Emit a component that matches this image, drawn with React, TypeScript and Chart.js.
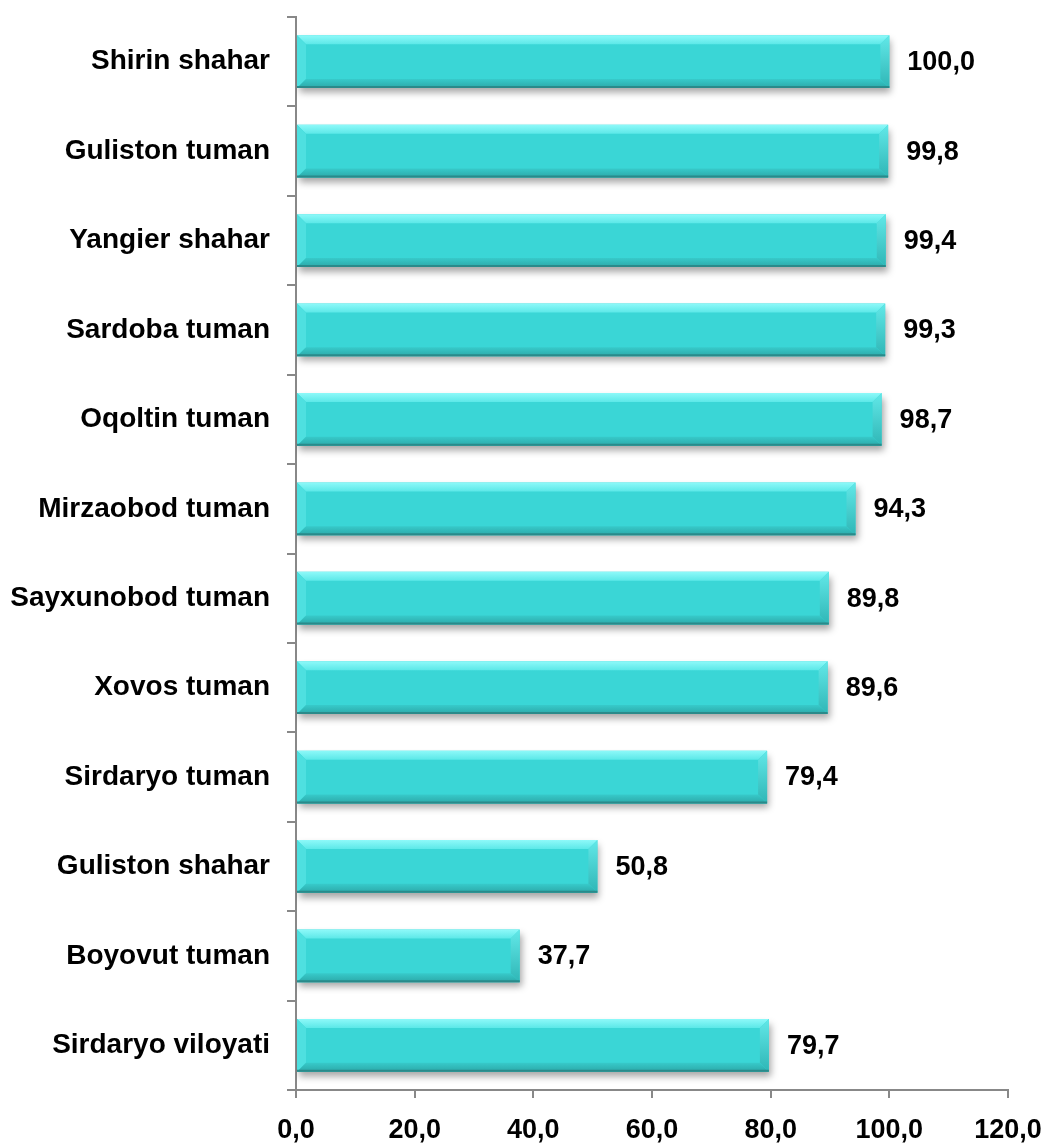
import React, { useEffect, useRef } from "react";
import { Chart, registerables } from "chart.js";

Chart.register(...registerables);

const categories = [
  "Shirin shahar",
  "Guliston tuman",
  "Yangier shahar",
  "Sardoba tuman",
  "Oqoltin tuman",
  "Mirzaobod tuman",
  "Sayxunobod tuman",
  "Xovos tuman",
  "Sirdaryo tuman",
  "Guliston shahar",
  "Boyovut tuman",
  "Sirdaryo viloyati",
];
const values = [100.0, 99.8, 99.4, 99.3, 98.7, 94.3, 89.8, 89.6, 79.4, 50.8, 37.7, 79.7];
const xTicks = [0, 20, 40, 60, 80, 100, 120];

const FONT = "'Liberation Sans', Arial, sans-serif";
const fmt = (v: number) => v.toFixed(1).replace(".", ",");

const barFx = {
  id: "barFx",
  beforeDatasetsDraw(chart: any) {
    const ctx = chart.ctx;
    ctx.save();
    ctx.shadowColor = "rgba(0,0,0,0.35)";
    ctx.shadowBlur = 7;
    ctx.shadowOffsetX = 2;
    ctx.shadowOffsetY = 5;
  },
  afterDatasetsDraw(chart: any) {
    const ctx = chart.ctx;
    ctx.restore();
    const meta = chart.getDatasetMeta(0);
    meta.data.forEach((bar: any, i: number) => {
      const L = Math.min(bar.base, bar.x);
      const R = Math.max(bar.base, bar.x);
      const T = bar.y - bar.height / 2;
      const B = bar.y + bar.height / 2;
      const b = 9;
      ctx.save();
      // top facet
      const gTop = ctx.createLinearGradient(0, T, 0, T + b);
      gTop.addColorStop(0, "#8ef9f9");
      gTop.addColorStop(1, "#5ce8e8");
      ctx.fillStyle = gTop;
      ctx.beginPath();
      ctx.moveTo(L, T);
      ctx.lineTo(R, T);
      ctx.lineTo(R - b, T + b);
      ctx.lineTo(L + b, T + b);
      ctx.closePath();
      ctx.fill();
      // left facet
      ctx.fillStyle = "#4ee0e0";
      ctx.beginPath();
      ctx.moveTo(L, T);
      ctx.lineTo(L + b, T + b);
      ctx.lineTo(L + b, B - b);
      ctx.lineTo(L, B);
      ctx.closePath();
      ctx.fill();
      // right facet
      const gR = ctx.createLinearGradient(0, T, 0, B);
      gR.addColorStop(0, "#62e8e8");
      gR.addColorStop(1, "#2fb6b6");
      ctx.fillStyle = gR;
      ctx.beginPath();
      ctx.moveTo(R, T);
      ctx.lineTo(R, B);
      ctx.lineTo(R - b, B - b);
      ctx.lineTo(R - b, T + b);
      ctx.closePath();
      ctx.fill();
      // bottom facet
      const gB = ctx.createLinearGradient(0, B - b, 0, B);
      gB.addColorStop(0, "#37caca");
      gB.addColorStop(1, "#2ca8a8");
      ctx.fillStyle = gB;
      ctx.beginPath();
      ctx.moveTo(L, B);
      ctx.lineTo(R, B);
      ctx.lineTo(R - b, B - b);
      ctx.lineTo(L + b, B - b);
      ctx.closePath();
      ctx.fill();
      // bottom edge line
      ctx.strokeStyle = "#2a8a8a";
      ctx.lineWidth = 2;
      ctx.beginPath();
      ctx.moveTo(L, B - 1);
      ctx.lineTo(R, B - 1);
      ctx.stroke();
      // value label
      ctx.fillStyle = "#000";
      ctx.font = `bold 27px ${FONT}`;
      ctx.textAlign = "left";
      ctx.textBaseline = "middle";
      ctx.fillText(fmt(values[i]), R + 18, bar.y + 1);
      ctx.restore();
    });
  },
};

export default function App() {
  const ref = useRef<HTMLCanvasElement | null>(null);
  useEffect(() => {
    if (!ref.current) return;
    const chart = new Chart(ref.current, {
      type: "bar",
      data: {
        labels: categories,
        datasets: [
          {
            data: values,
            backgroundColor: "#3ad6d6",
            borderWidth: 0,
            categoryPercentage: 1,
            barPercentage: 0.59,
          },
        ],
      },
      options: {
        indexAxis: "y",
        animation: false,
        responsive: true,
        maintainAspectRatio: false,
        layout: { padding: { top: 17, right: 38, left: 0, bottom: 0 } },
        plugins: { legend: { display: false }, tooltip: { enabled: false } },
        scales: {
          x: {
            type: "linear",
            min: 0,
            max: 120,
            afterBuildTicks: (s: any) => {
              s.ticks = xTicks.map((v) => ({ value: v }));
            },
            afterFit: (s: any) => {
              s.height = 54;
              s.paddingLeft = 0;
              s.paddingRight = 0;
            },
            grid: {
              drawOnChartArea: false,
              drawTicks: true,
              tickLength: 8,
              color: "#888888",
              lineWidth: 2,
            },
            border: { color: "#888888", width: 2 },
            ticks: {
              color: "#000",
              padding: 16,
              font: { family: FONT, size: 27, weight: "bold" },
              callback: (v: any) => fmt(Number(v)),
            },
          },
          y: {
            type: "category",
            afterFit: (s: any) => {
              s.width = 296;
              s.paddingTop = 0;
              s.paddingBottom = 0;
            },
            grid: {
              offset: true,
              drawOnChartArea: false,
              drawTicks: true,
              tickLength: 9,
              color: "#888888",
              lineWidth: 2,
            },
            border: { color: "#888888", width: 2 },
            ticks: {
              color: "#000",
              padding: 17,
              font: { family: FONT, size: 28, weight: "bold" },
            },
          },
        },
      },
      plugins: [barFx],
    });
    return () => chart.destroy();
  }, []);
  return (
    <div style={{ position: "absolute", left: 0, top: 0, width: 1046, height: 1144 }}>
      <canvas ref={ref} />
    </div>
  );
}
